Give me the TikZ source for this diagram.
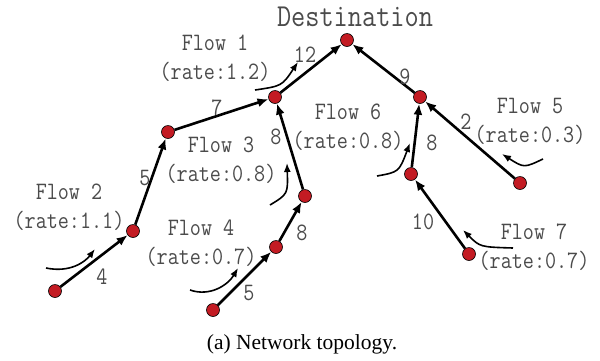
\documentclass[tikz,border=0pt]{standalone}
\usepackage{fontspec}
\setmainfont{Liberation Serif}
\setmonofont[FakeStretch=0.86]{Latin Modern Mono}
\usepackage{xcolor}
\usetikzlibrary{arrows.meta}
\definecolor{nodered}{RGB}{195,27,35}
\definecolor{txtgray}{RGB}{75,75,75}

\begin{document}
\begin{tikzpicture}[x=1pt,y=-1pt,
  router/.style={circle, draw=black, line width=0.6pt, fill=nodered, minimum size=13pt, inner sep=0pt},
  link/.style={-{Latex[length=11pt,width=9pt]}, line width=2.6pt},
  flow/.style={-{Latex[length=9pt,width=7pt]}, line width=1.6pt},
  flowlbl/.style={text=txtgray, font=\ttfamily\fontsize{25}{29}\selectfont, align=center, inner sep=0pt},
  wt/.style={text=txtgray, font=\ttfamily\fontsize{25}{29}\selectfont, inner sep=0pt}]
\useasboundingbox (0,0) rectangle (600,360);

% routers
\node[router] (dst) at (347,40) {};
\node[router] (a) at (275,97) {};
\node[router] (b) at (168,132) {};
\node[router] (c) at (133,231) {};
\node[router] (s2) at (55,291) {};
\node[router] (e) at (305,196) {};
\node[router] (g) at (276,247) {};
\node[router] (s4) at (213,310) {};
\node[router] (h) at (420,97) {};
\node[router] (i) at (411,174) {};
\node[router] (j) at (520,183) {};
\node[router] (k) at (469,254) {};

\node[text=txtgray, font=\ttfamily\fontsize{32}{36}\selectfont, inner sep=0pt] (dlbl) at (355,17) {Destination};

% links
\draw[link] (a) -- (dst);
\draw[link] (b) -- (a);
\draw[link] (c) -- (b);
\draw[link] (s2) -- (c);
\draw[link] (e) -- (a);
\draw[link] (g) -- (e);
\draw[link] (s4) -- (g);
\draw[link] (h) -- (dst);
\draw[link] (i) -- (h);
\draw[link] (j) -- (h);
\draw[link] (k) -- (i);

% link weights
\node[wt] (w12) at (305,55) {12};
\node[wt] (w9) at (405,77) {9};
\node[wt] (w7) at (217,108) {7};
\node[wt] (w5a) at (145,178) {5};
\node[wt] (w4) at (102,277) {4};
\node[wt] (w8a) at (276,137) {8};
\node[wt] (w8b) at (302,233) {8};
\node[wt] (w5b) at (249,293) {5};
\node[wt] (w8c) at (432,143) {8};
\node[wt] (w2) at (466,122) {2};
\node[wt] (w10) at (423,222) {10};

% flows
\node[flowlbl] (f1) at (215,58) {Flow 1\\(rate:1.2)};
\node[flowlbl] (f2) at (69,207) {Flow 2\\(rate:1.1)};
\node[flowlbl] (f3) at (221,160) {Flow 3\\(rate:0.8)};
\node[flowlbl] (f4) at (201,243) {Flow 4\\(rate:0.7)};
\node[flowlbl] (f6) at (348,127) {Flow 6\\(rate:0.8)};
\node[flowlbl] (f5) at (530,121) {Flow 5\\(rate:0.3)};
\node[flowlbl] (f7) at (534,247) {Flow 7\\(rate:0.7)};

\coordinate (f1s) at (255,90);  \coordinate (f1e) at (298,62);
\coordinate (f2s) at (46,268);  \coordinate (f2e) at (95,249);
\coordinate (f3s) at (270,205); \coordinate (f3e) at (287,163);
\coordinate (f4s) at (190,290); \coordinate (f4e) at (238,268);
\coordinate (f6s) at (377,176); \coordinate (f6e) at (410,143);
\coordinate (f5s) at (543,159); \coordinate (f5e) at (502,154);
\coordinate (f7s) at (513,248); \coordinate (f7e) at (463,230);

\draw[flow] (f1s) .. controls (282,86) .. (f1e);
\draw[flow] (f2s) .. controls (70,273) and (85,262) .. (f2e);
\draw[flow] (f3s) .. controls (288,194) .. (f3e);
\draw[flow] (f4s) .. controls (210,297) and (228,285) .. (f4e);
\draw[flow] (f6s) .. controls (399,172) .. (f6e);
\draw[flow] (f5s) .. controls (524,168) .. (f5e);
\draw[flow] (f7s) .. controls (480,247) .. (f7e);

\node[font=\fontsize{21.5}{26}\selectfont, inner sep=0pt] (cap) at (302,344) {(a) Network topology.};
\end{tikzpicture}
\end{document}
